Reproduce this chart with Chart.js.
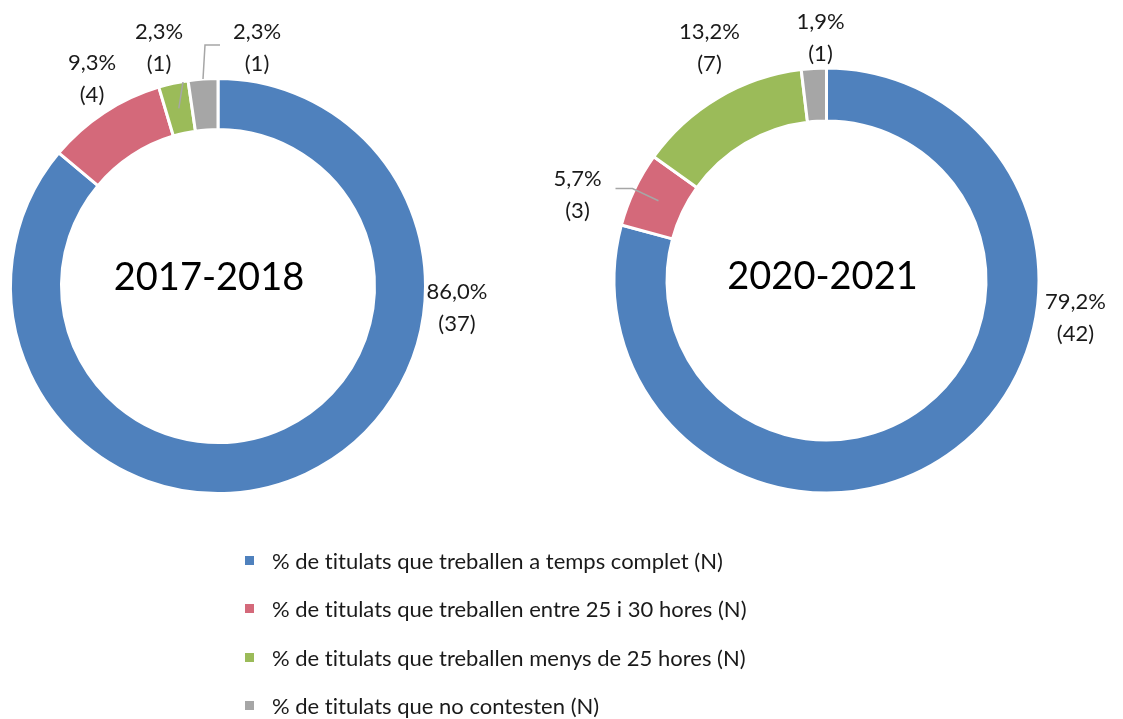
<!DOCTYPE html>
<html>
<head>
<meta charset="utf-8">
<script src="https://cdn.jsdelivr.net/npm/chart.js@4"></script>
<style>
  html, body { margin: 0; padding: 0; background: #fff; }
  #wrap { position: relative; width: 1123px; height: 719px; overflow: hidden; }
  #wrap canvas { position: absolute; left: 0; top: 0; }
  #legend { position: absolute; left: 245px; top: 536px; font-family: Lato, sans-serif; font-size: 22px; color: #1a1a1a; font-variant-ligatures: none; }
  #legend .row { height: 48.5px; display: flex; align-items: center; }
  #legend .box { width: 9px; height: 9px; margin-right: 18px; }
</style>
</head>
<body>
<div id="wrap">
  <canvas id="ring1718" width="1123" height="719"></canvas>
  <canvas id="ring2021" width="1123" height="719"></canvas>
  <div id="legend"></div>
</div>
<script>
// --- DATA ---
const categories = [
    '% de titulats que treballen a temps complet (N)',
    '% de titulats que treballen entre 25 i 30 hores (N)',
    '% de titulats que treballen menys de 25 hores (N)',
    '% de titulats que no contesten (N)'
];
const periods = ['2017-2018', '2020-2021'];
const pct1718 = [86.0, 9.3, 2.3, 2.3];
const count1718 = [37, 4, 1, 1];
const pct2021 = [79.2, 5.7, 13.2, 1.9];
const count2021 = [42, 3, 7, 1];

const colors = ['#4F81BD', '#D4697A', '#9BBB59', '#A6A6A6'];
const FONT = 'Lato, sans-serif';
const W = 1123, H = 719;

// --- LABEL PLUGIN (percent + count around the ring, title in the hole) ---
const ringLabels = {
    id: 'ringLabels',
    afterDraw(chart, args, opts) {
        const ctx = chart.ctx;
        const meta = chart.getDatasetMeta(0);
        const cx = meta.data[0].x, cy = meta.data[0].y;
        const ds = chart.data.datasets[0];
        ctx.save();
        ctx.textAlign = 'center';
        ctx.textBaseline = 'middle';
        ctx.fillStyle = '#000';
        ctx.font = opts.titleSize + 'px ' + FONT;
        ctx.fillText(opts.title, cx + opts.titleOffset[0], cy + opts.titleOffset[1]);

        meta.data.forEach((arc, i) => {
            const p = arc.getProps(['startAngle', 'endAngle', 'outerRadius', 'innerRadius'], true);
            const mid = (p.startAngle + p.endAngle) / 2;
            const lead = opts.leaders[i];
            if (lead) {
                const r = p.innerRadius + (p.outerRadius - p.innerRadius) * lead.at;
                ctx.beginPath();
                ctx.moveTo(cx + Math.cos(mid) * r, cy + Math.sin(mid) * r);
                lead.path.forEach(([x, y]) => ctx.lineTo(cx + x, cy + y));
                ctx.strokeStyle = '#A6A6A6';
                ctx.lineWidth = 1.5;
                ctx.stroke();
            }
            const [dx, dy] = opts.offsets[i];
            const pctText = ds.data[i].toFixed(1).replace('.', ',') + '%';
            const nText = '(' + ds.counts[i] + ')';
            ctx.fillStyle = '#1a1a1a';
            ctx.font = opts.labelSize + 'px ' + FONT;
            ctx.fillText(pctText, cx + dx, cy + dy - 16);
            ctx.fillText(nText, cx + dx, cy + dy + 16);
        });
        ctx.restore();
    }
};

function makeRing(id, title, values, counts, center, outer, inner, labelOpts) {
    const [cx, cy] = center;
    const bw = 3;
    const padding = {
        left: cx > W / 2 ? 2 * cx - W : 0,
        right: cx > W / 2 ? 0 : W - 2 * cx,
        top: cy > H / 2 ? 2 * cy - H : 0,
        bottom: cy > H / 2 ? 0 : H - 2 * cy
    };
    return new Chart(document.getElementById(id), {
        type: 'doughnut',
        data: {
            labels: categories,
            datasets: [{
                data: values,
                counts: counts,
                backgroundColor: colors,
                borderColor: '#ffffff',
                borderWidth: bw
            }]
        },
        options: {
            responsive: false,
            animation: false,
            devicePixelRatio: 1,
            events: [],
            radius: outer + bw / 2,
            cutout: ((inner - bw / 2) / (outer + bw / 2) * 100) + '%',
            layout: { padding: padding },
            plugins: {
                legend: { display: false },
                tooltip: { enabled: false },
                ringLabels: Object.assign({ title: title, titleSize: 38, labelSize: 22 }, labelOpts)
            }
        },
        plugins: [ringLabels]
    });
}

makeRing('ring1718', periods[0], pct1718, count1718, [218, 286], 206, 158, {
    titleOffset: [-9, -8],
    offsets: [[239, 22], [-126, -207], [-59, -238], [39, -238]],
    leaders: [null, null,
        { at: 0.5, path: [[-35, -204]] },
        { at: 1.0, path: [[-13, -241], [2, -241]] }]
});

makeRing('ring2021', periods[1], pct2021, count2021, [826.5, 280.5], 211, 161, {
    titleOffset: [-4, -4],
    offsets: [[249, 37], [-249, -86], [-117, -233], [-6, -243]],
    leaders: [null,
        { at: 0.5, path: [[-194, -92], [-211, -92]] },
        null, null]
});

// --- LEGEND ---
const legendEl = document.getElementById('legend');
categories.forEach((name, i) => {
    const row = document.createElement('div');
    row.className = 'row';
    const box = document.createElement('span');
    box.className = 'box';
    box.style.background = colors[i];
    const txt = document.createElement('span');
    txt.textContent = name;
    row.appendChild(box);
    row.appendChild(txt);
    legendEl.appendChild(row);
});
</script>
</body>
</html>
